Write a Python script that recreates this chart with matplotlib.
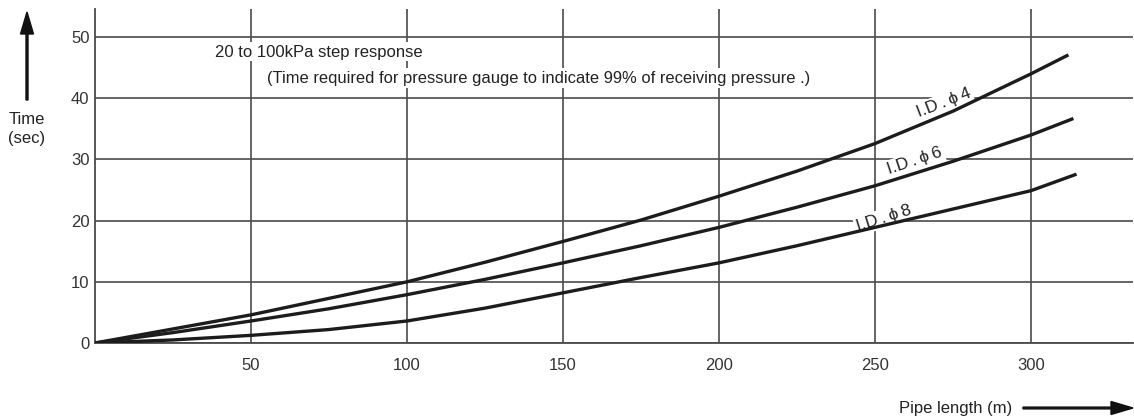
import matplotlib
matplotlib.use("Agg")
import matplotlib.pyplot as plt
from matplotlib.patches import FancyArrow
from matplotlib.transforms import IdentityTransform

plt.rcParams['font.family'] = ['Liberation Sans', 'DejaVu Sans']

# Data
pipe_length_4 = [0, 25, 50, 75, 100, 125, 150, 175, 200, 225, 250, 275, 300, 312]
time_id4 = [0, 2.3, 4.6, 7.3, 10.0, 13.2, 16.6, 20.1, 24.0, 28.1, 32.6, 37.9, 44.0, 47.1]
pipe_length_6 = [0, 25, 50, 75, 100, 125, 150, 175, 200, 225, 250, 275, 300, 313.6]
time_id6 = [0, 1.7, 3.6, 5.6, 7.9, 10.4, 13.1, 15.9, 18.9, 22.2, 25.7, 29.7, 34.0, 36.7]
pipe_length_8 = [0, 25, 50, 75, 100, 125, 150, 175, 200, 225, 250, 275, 300, 314.6]
time_id8 = [0, 0.5, 1.25, 2.2, 3.6, 5.7, 8.2, 10.7, 13.1, 15.9, 18.9, 21.9, 24.9, 27.6]

x_ticks = [50, 100, 150, 200, 250, 300]
y_ticks = [0, 10, 20, 30, 40, 50]
series_labels = ["I.D\u2009.\u2009\u03d5\u20094", "I.D\u2009.\u2009\u03d5\u20096", "I.D\u2009.\u2009\u03d5\u20098"]

W, H = 1134, 419
fig = plt.figure(figsize=(W / 100, H / 100), dpi=100)
ax = fig.add_axes([95 / W, 1 - 343 / H, (1133 - 95) / W, (343 - 9) / H])
ax.set_xlim(0, 332.7)
ax.set_ylim(0, 54.6)

grid_color = '#4a4a4a'
text_color = '#222222'
ax.set_xticks(x_ticks)
ax.set_yticks(y_ticks)
ax.grid(True, color=grid_color, linewidth=1.2, zorder=1)
ax.set_axisbelow(True)
for s in ['top', 'right']:
    ax.spines[s].set_visible(False)
for s in ['left', 'bottom']:
    ax.spines[s].set_color(grid_color)
    ax.spines[s].set_linewidth(1.3)
ax.tick_params(length=0, labelsize=12, colors='#333333')
ax.tick_params(axis='x', pad=11)
ax.tick_params(axis='y', pad=4)

curve_color = '#1c1c1c'
for xs, ys in [(pipe_length_4, time_id4), (pipe_length_6, time_id6), (pipe_length_8, time_id8)]:
    ax.plot(xs, ys, color=curve_color, linewidth=2.4, zorder=4,
            solid_capstyle='butt', solid_joinstyle='round')

box = dict(facecolor='white', edgecolor='none', pad=1.5)
label_pos = [(272.0, 39.2, 21.0), (262.8, 29.7, 18.5), (252.9, 20.4, 17.5)]
for lab, (lx, ly, rot) in zip(series_labels, label_pos):
    ax.text(lx, ly, lab, rotation=rot, ha='center', va='center', fontsize=12.5,
            color=text_color, bbox=box, zorder=3, rotation_mode='anchor')

fig.text(215 / W, 1 - 52 / H, "20 to 100kPa step response", fontsize=12,
         color=text_color, va='center', ha='left', bbox=box, zorder=3)
fig.text(267 / W, 1 - 78 / H,
         "(Time required for pressure gauge to indicate 99% of receiving pressure .)",
         fontsize=11.9, color=text_color, va='center', ha='left', bbox=box, zorder=3)

# Y axis label with up arrow
fig.text(27 / W, 1 - 119 / H, "Time", fontsize=12, color=text_color, ha='center', va='center')
fig.text(27 / W, 1 - 139 / H, "(sec)", fontsize=12, color=text_color, ha='center', va='center')
fig.patches.append(FancyArrow(
    27, H - 100, 0, 88, width=2.0, head_width=13, head_length=22,
    length_includes_head=True, color='#111111', transform=IdentityTransform(), figure=fig))

# X axis label with right arrow
fig.text(1012 / W, 1 - 408 / H, "Pipe length (m)", fontsize=12, color=text_color,
         ha='right', va='center')
fig.patches.append(FancyArrow(
    1023, H - 408, 110, 0, width=1.8, head_width=13, head_length=22,
    length_includes_head=True, color='#111111', transform=IdentityTransform(), figure=fig))

fig.savefig("out.png", dpi=100)
